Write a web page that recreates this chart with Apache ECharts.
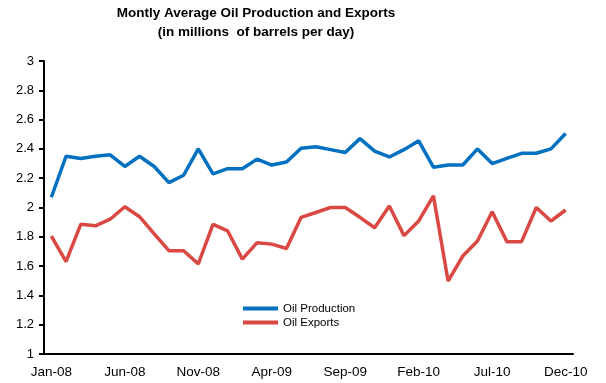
<!DOCTYPE html>
<html><head><meta charset="utf-8">
<script src="https://cdn.jsdelivr.net/npm/echarts@6/dist/echarts.min.js"></script>
<style>html,body{margin:0;padding:0;background:#fff}#c{width:606px;height:383px}</style>
</head><body><div id="c"></div>
<script>
const months = ['Jan','Feb','Mar','Apr','May','Jun','Jul','Aug','Sep','Oct','Nov','Dec'];
const years = ['08','09','10'];
const categories = [];
years.forEach(y => months.forEach(m => categories.push(m + '-' + y)));
const production = [2.07,2.35,2.335,2.35,2.36,2.28,2.35,2.28,2.17,2.22,2.40,2.23,
                    2.265,2.265,2.33,2.29,2.31,2.405,2.415,2.395,2.375,2.47,2.385,2.345,
                    2.395,2.455,2.275,2.29,2.29,2.40,2.30,2.335,2.37,2.37,2.40,2.505];
const exportsData = [1.805,1.63,1.885,1.875,1.92,2.005,1.937,1.82,1.705,1.705,1.615,1.885,
                     1.84,1.648,1.76,1.75,1.72,1.933,1.966,2.0,2.0,1.933,1.862,2.01,
                     1.808,1.908,2.08,1.498,1.669,1.771,1.971,1.767,1.767,2.0,1.908,1.983];
const titleLines = ['Montly Average Oil Production and Exports','(in millions  of barrels per day)'];
const seriesNames = ['Oil Production','Oil Exports'];

const chart = echarts.init(document.getElementById('c'), null, {renderer:'canvas'});
const font = '"Liberation Sans", Arial, sans-serif';
chart.setOption({
  animation:false,
  textStyle:{fontFamily:font},
  graphic:[{
    type:'text', x:256, y:4,
    style:{text:titleLines.join('\n'), textAlign:'center', textVerticalAlign:'top',
           font:'bold 13.5px ' + font, lineHeight:19, fill:'#000'}
  }],
  legend:{
    orient:'vertical', left:243, top:302.5, padding:0, itemWidth:35, itemHeight:4, itemGap:2,
    icon:'rect', data:seriesNames,
    textStyle:{fontSize:11.5, color:'#000', fontFamily:font}
  },
  grid:{left:44, right:33, top:61, bottom:29, containLabel:false},
  xAxis:{
    type:'category', data:categories, boundaryGap:true,
    axisLine:{lineStyle:{color:'#000', width:2}},
    axisTick:{interval:4, length:5, lineStyle:{color:'#000', width:2}},
    axisLabel:{interval:4, margin:11, color:'#000', fontSize:13.5, fontFamily:font},
    splitLine:{show:false}
  },
  yAxis:{
    type:'value', min:1, max:3, interval:0.2,
    axisLine:{show:true, lineStyle:{color:'#000', width:2}},
    axisTick:{show:true, length:5, lineStyle:{color:'#000', width:2}},
    axisLabel:{margin:10, color:'#000', fontSize:13, fontFamily:font},
    splitLine:{show:false}
  },
  series:[
    {name:seriesNames[0], type:'line', data:production, showSymbol:false,
     lineStyle:{color:'#0070C0', width:3.5}, itemStyle:{color:'#0070C0'}},
    {name:seriesNames[1], type:'line', data:exportsData, showSymbol:false,
     lineStyle:{color:'#DA4843', width:3.5}, itemStyle:{color:'#DA4843'}}
  ]
});
</script>
</body></html>
